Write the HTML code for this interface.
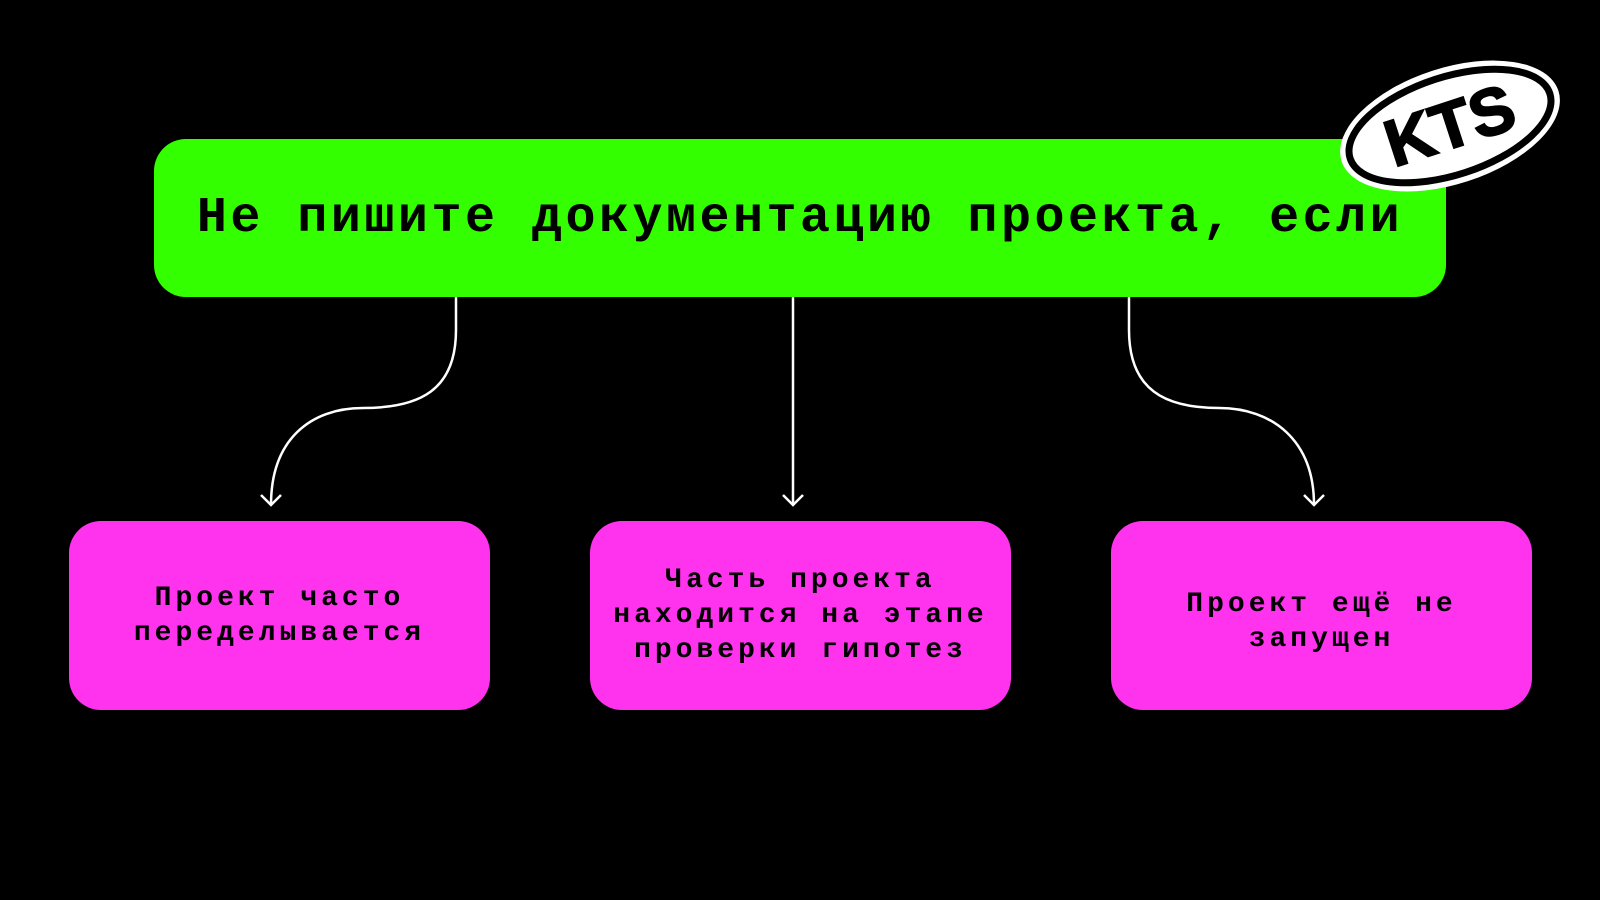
<!DOCTYPE html>
<html><head><meta charset="utf-8"><style>
html,body{margin:0;padding:0;background:#000;width:1600px;height:900px;overflow:hidden}
.g{position:absolute;left:154px;top:139px;width:1292px;height:158px;background:#33ff00;border-radius:32px}
.t{position:absolute;left:154px;top:189px;width:1292px;text-align:center;font:bold 50px "Liberation Mono",monospace;letter-spacing:3.5px;color:#000;line-height:60px}
.p{position:absolute;top:521px;width:421px;height:189px;background:#ff33ee;border-radius:32px;display:flex;align-items:center;justify-content:center;text-align:center;font:bold 28px "Liberation Mono",monospace;letter-spacing:4px;line-height:35px;color:#000}
</style></head><body>
<div class="g"></div>
<div class="t">Не пишите документацию проекта, если</div>
<div class="p" style="left:69px">Проект часто<br>переделывается</div>
<div class="p" style="left:590px">Часть проекта<br>находится на этапе<br>проверки гипотез</div>
<div class="p" style="left:1111px;padding-top:12px;box-sizing:border-box">Проект ещё не<br>запущен</div>
<svg width="1600" height="900" style="position:absolute;left:0;top:0">
<g fill="none" stroke="#fff" stroke-width="2.5">
<path d="M456 297 V330 C456 390 420 408 363 408 C310 408 271 440 271 505"/>
<path d="M261 495 L271 505 L281 495"/>
<path d="M793 297 V505"/>
<path d="M783 495 L793 505 L803 495"/>
<path d="M1129 297 V330 C1129 390 1165 408 1219 408 C1272 408 1314 440 1314 505"/>
<path d="M1304 495 L1314 505 L1324 495"/>
</g>
<g transform="translate(1450,126) rotate(-18)">
<ellipse rx="114" ry="58" fill="#fff"/>
<ellipse rx="105" ry="49" fill="none" stroke="#000" stroke-width="7"/>
<text x="0" y="22" text-anchor="middle" font-family="Liberation Sans,sans-serif" font-weight="bold" font-size="66" fill="#000" stroke="#000" stroke-width="2">KTS</text>
</g>
</svg>
</body></html>
